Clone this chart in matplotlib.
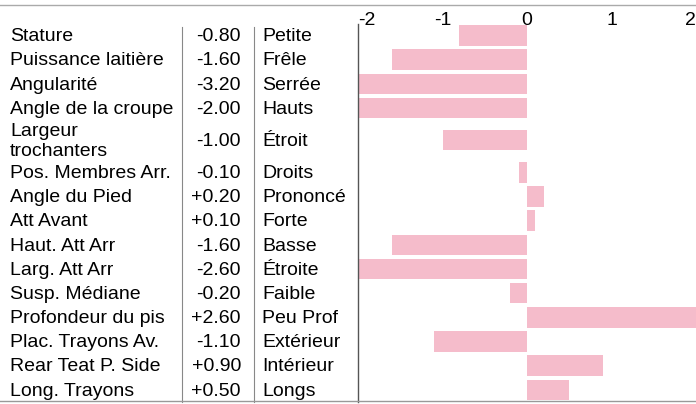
import matplotlib.pyplot as plt
import numpy as np
from matplotlib.lines import Line2D
from matplotlib.transforms import blended_transform_factory

plt.rcParams['font.family'] = ['Liberation Sans', 'DejaVu Sans']

traits = ["Stature", "Puissance laitière", "Angularité", "Angle de la croupe",
          "Largeur\ntrochanters", "Pos. Membres Arr.", "Angle du Pied", "Att Avant",
          "Haut. Att Arr", "Larg. Att Arr", "Susp. Médiane", "Profondeur du pis",
          "Plac. Trayons Av.", "Rear Teat P. Side", "Long. Trayons"]
values = [-0.80, -1.60, -3.20, -2.00, -1.00, -0.10, 0.20, 0.10,
          -1.60, -2.60, -0.20, 2.60, -1.10, 0.90, 0.50]
labels = ["Petite", "Frêle", "Serrée", "Hauts", "Étroit", "Droits", "Prononcé", "Forte",
          "Basse", "Étroite", "Faible", "Peu Prof", "Extérieur", "Intérieur", "Longs"]
ticks = [-2, -1, 0, 1, 2]

W, H = 696, 404
fig = plt.figure(figsize=(W / 100, H / 100), dpi=100)

# the two-line row is taller than the others
heights = np.array([1.65 if "\n" in t else 1.0 for t in traits])
edges = np.concatenate([[0], np.cumsum(heights)])
centers = (edges[:-1] + edges[1:]) / 2

top_px, bot_px, left_px = 23.5, 402, 358
ax = fig.add_axes([left_px / W, 1 - bot_px / H, (W - left_px) / W, (bot_px - top_px) / H])
ax.barh(centers, values, height=0.85, color='#f5bccb')
ax.set_xlim(-2, 2)
ax.set_ylim(edges[-1], 0)

for s in ['top', 'right', 'bottom']:
    ax.spines[s].set_visible(False)
ax.spines['left'].set_color('#555555')
ax.spines['left'].set_linewidth(1)
ax.set_yticks([])
ax.xaxis.tick_top()
ax.set_xticks(ticks)
ax.set_xticklabels([str(t) for t in ticks])
ax.tick_params(axis='x', length=0, pad=-4, labelsize=14)
tl = ax.get_xticklabels()
tl[0].set_ha('left')
tl[-1].set_ha('right')

fs = 14
tr = blended_transform_factory(fig.transFigure, ax.transData)
for y, name, v, lab in zip(centers, traits, values, labels):
    fig.text(10 / W, y + 0.05, name, transform=tr, ha='left', va='center',
             fontsize=fs, linespacing=1.2)
    fig.text(241 / W, y + 0.05, f"{v:+.2f}", transform=tr, ha='right', va='center', fontsize=fs)
    fig.text(262 / W, y + 0.05, lab, transform=tr, ha='left', va='center', fontsize=fs)

# table rules
for x in [182, 254]:
    fig.add_artist(Line2D([x / W, x / W], [1 - 27 / H, 1 - bot_px / H],
                          color='#888888', lw=0.8))
fig.add_artist(Line2D([0, 1], [1 - 5 / H, 1 - 5 / H], color='#aaaaaa', lw=1))
fig.add_artist(Line2D([0, 1], [1 - 401 / H, 1 - 401 / H], color='#999999', lw=1))

fig.savefig('out.png', dpi=100)
